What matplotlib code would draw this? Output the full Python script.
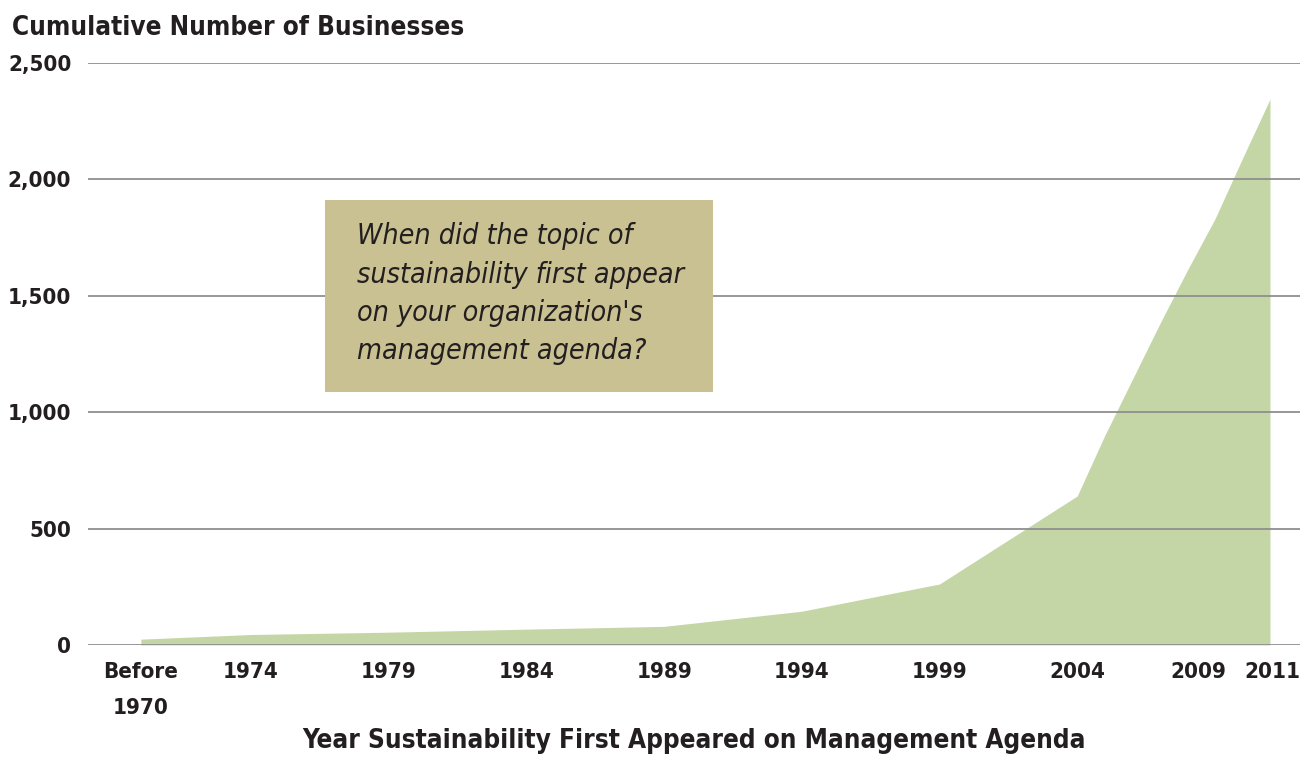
import matplotlib
matplotlib.use("Agg")
import matplotlib.pyplot as plt
import matplotlib.transforms as mtransforms
from matplotlib.patches import Rectangle

# cumulative businesses by year sustainability first hit the agenda
years = [1970, 1974, 1979, 1984, 1989, 1994, 1999, 2004, 2005, 2006, 2007, 2008, 2009, 2010, 2011]
counts = [25, 45, 55, 68, 80, 145, 262, 640, 900, 1140, 1380, 1610, 1830, 2090, 2345]

tick_years = [1970, 1974, 1979, 1984, 1989, 1994, 1999, 2004, 2009, 2011]
tick_labels = ["Before\n1970", "1974", "1979", "1984", "1989", "1994", "1999", "2004", "2009", "2011"]
y_ticks = [0, 500, 1000, 1500, 2000, 2500]

INK = "#231f20"
plt.rcParams["font.family"] = ["DejaVu Sans", "Liberation Sans"]
plt.rcParams["font.stretch"] = "condensed"
plt.rcParams["font.weight"] = "bold"

fig = plt.figure(figsize=(13.03, 7.58), dpi=100)
ax = fig.add_axes([0.0675, 0.1491, 0.9302, 0.7678])

ax.fill_between(years, counts, 0, color="#c5d6a6", lw=0, zorder=1)

ax.set_xlim(1968.08, 2012.09)
ax.set_ylim(0, 2500)
ax.set_yticks(y_ticks)
ax.set_yticklabels([f"{v:,}" for v in y_ticks])
ax.set_xticks(tick_years)
ax.set_xticklabels(tick_labels)
ax.yaxis.grid(True, color="#8f8f8f", lw=1.3, zorder=2)
ax.set_axisbelow(False)
ax.tick_params(axis="both", length=0, labelsize=16, colors=INK)
ax.tick_params(axis="y", pad=12)
ax.tick_params(axis="x", pad=12)
for s in ax.spines.values():
    s.set_visible(False)

xlabels = ax.get_xticklabels()
for t in xlabels:
    t.set_linespacing(2.05)
# the last two labels sit close together, nudge them apart
xlabels[-2].set_transform(xlabels[-2].get_transform() + mtransforms.ScaledTranslation(-0.17, 0, fig.dpi_scale_trans))
xlabels[-1].set_transform(xlabels[-1].get_transform() + mtransforms.ScaledTranslation(0.02, 0, fig.dpi_scale_trans))

ax.set_xlabel("Year Sustainability First Appeared on Management Agenda",
              fontsize=18.7, fontweight="bold", color=INK, labelpad=7)
fig.text(0.009, 0.963, "Cumulative Number of Businesses", fontsize=18.7,
         color=INK, ha="left", va="center")

# question box
ax.add_patch(Rectangle((0.1955, 0.4347), 0.320, 0.330, transform=ax.transAxes,
                       facecolor="#c9c192", edgecolor="none", zorder=3))
ax.text(0.222, 0.726,
        "When did the topic of\nsustainability first appear\non your organization's\nmanagement agenda?",
        transform=ax.transAxes, ha="left", va="top", fontsize=20.5, style="italic",
        fontweight="normal", color=INK, linespacing=1.47, zorder=4)

fig.savefig("out.png", dpi=100)
